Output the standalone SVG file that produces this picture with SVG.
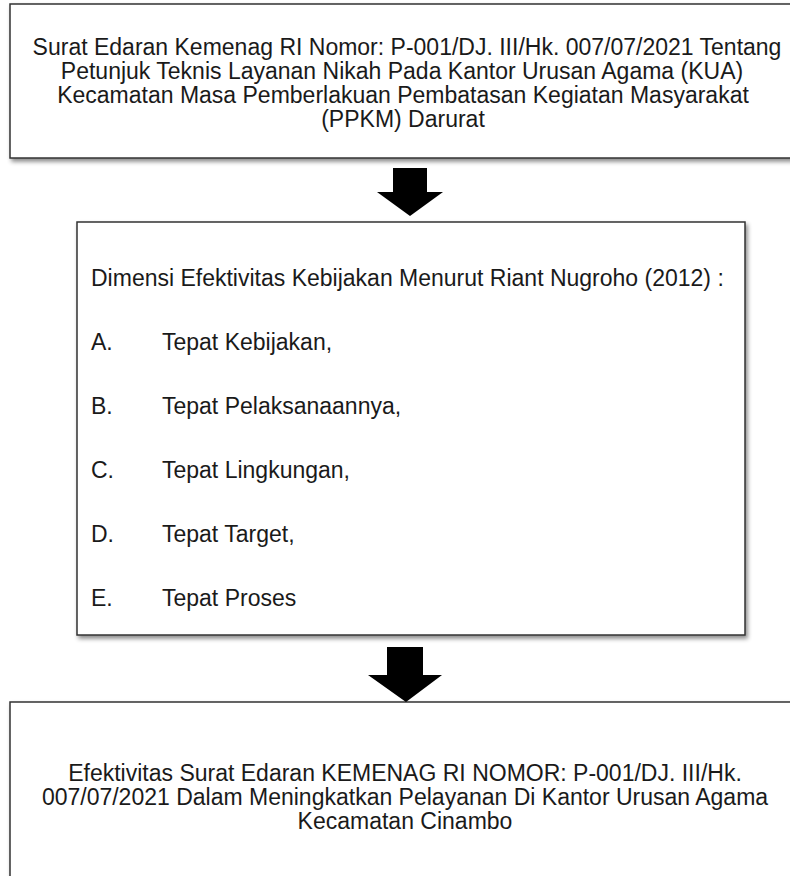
<svg xmlns="http://www.w3.org/2000/svg" width="790" height="876" viewBox="0 0 790 876">
<defs>
<filter id="sh" x="-10%" y="-10%" width="130%" height="130%">
<feDropShadow dx="2" dy="3" stdDeviation="2" flood-color="#000" flood-opacity="0.45"/>
</filter>
</defs>
<style>
.box{fill:#fff;stroke:#333;stroke-width:1.5;filter:url(#sh)}
.t{font-family:"Liberation Sans",Arial,sans-serif;font-size:23px;fill:#1a1a1a}
.c{text-anchor:middle}
.arr{fill:#000}
</style>
<rect width="790" height="876" fill="#fff"/>
<g id="node-top">
<rect class="box" x="10" y="4" width="800" height="154"/>
<text class="t c" x="407" y="55">Surat Edaran Kemenag RI Nomor: P-001/DJ. III/Hk. 007/07/2021 Tentang</text>
<text class="t c" x="402" y="79">Petunjuk Teknis Layanan Nikah Pada Kantor Urusan Agama (KUA)</text>
<text class="t c" x="403" y="103">Kecamatan Masa Pemberlakuan Pembatasan Kegiatan Masyarakat</text>
<text class="t c" x="403" y="127">(PPKM) Darurat</text>
</g>
<g id="node-middle">
<rect class="box" x="77" y="222" width="668" height="413"/>
<text class="t" x="91" y="286">Dimensi Efektivitas Kebijakan Menurut Riant Nugroho (2012) :</text>
<text class="t" x="91" y="350">A.</text><text class="t" x="162" y="350">Tepat Kebijakan,</text>
<text class="t" x="91" y="414">B.</text><text class="t" x="162" y="414">Tepat Pelaksanaannya,</text>
<text class="t" x="91" y="478">C.</text><text class="t" x="162" y="478">Tepat Lingkungan,</text>
<text class="t" x="91" y="542">D.</text><text class="t" x="162" y="542">Tepat Target,</text>
<text class="t" x="91" y="606">E.</text><text class="t" x="162" y="606">Tepat Proses</text>
</g>
<g id="node-bottom">
<rect class="box" x="10" y="702" width="800" height="200"/>
<text class="t c" x="405" y="781">Efektivitas Surat Edaran KEMENAG RI NOMOR: P-001/DJ. III/Hk.</text>
<text class="t c" x="405" y="805">007/07/2021 Dalam Meningkatkan Pelayanan Di Kantor Urusan Agama</text>
<text class="t c" x="405" y="829">Kecamatan Cinambo</text>
</g>
<g id="connectors">
<polygon class="arr" points="393,168 427,168 427,192 443,192 410,216 377,192 393,192"/>
<polygon class="arr" points="387,647 423,647 423,675 442,675 406,702 368,675 387,675"/>
</g>
</svg>
